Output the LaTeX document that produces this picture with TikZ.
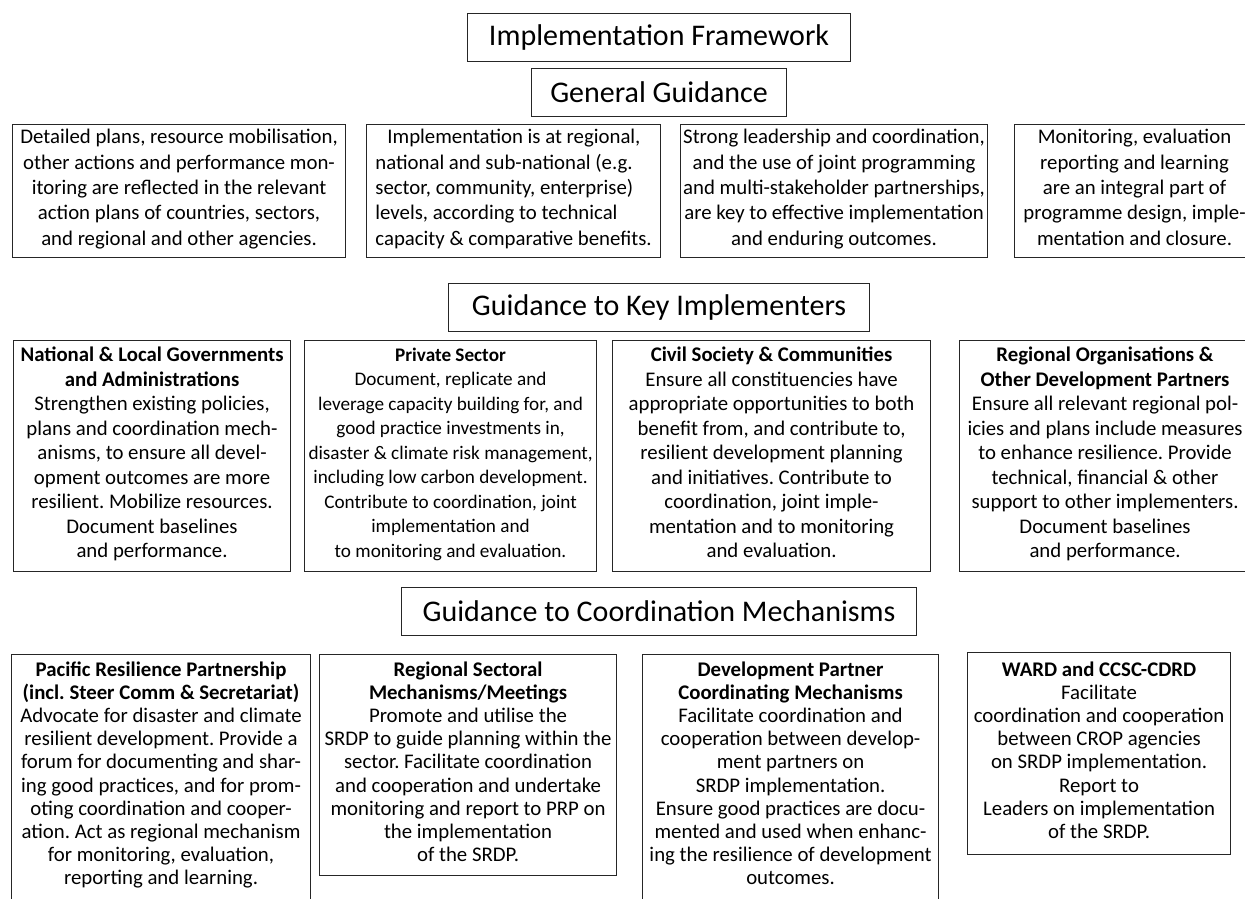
\documentclass[tikz,border=0pt]{standalone}
\usepackage{fontspec}
\setmainfont{Carlito}
\frenchspacing
\begin{document}
\begin{tikzpicture}[x=1pt,y=-1pt,
  box/.style={draw=black!85, line width=1.1pt, align=center, inner xsep=2pt, inner ysep=7pt,
    anchor=north west},
  rowone/.style={box, inner ysep=3pt, minimum height=133pt, font=\fontsize{20.8}{25.4}\selectfont},
  rowtwo/.style={box, inner ysep=3pt, minimum height=231pt, font=\fontsize{20.8}{24.5}\selectfont},
  rowthree/.style={box, font=\fontsize{20.8}{23.2}\selectfont},
  head/.style={draw=black!85, line width=1.1pt, anchor=north west, inner sep=0pt,
    minimum height=48pt, font=\fontsize{30}{36}\selectfont}]
\useasboundingbox (0,0) rectangle (1245,899);

% headers
\node[head, minimum width=383pt] (title) at (467,13) {Implementation Framework};
\node[head, minimum width=255pt] (gg) at (531,68) {General Guidance};
\node[head, minimum width=421pt] (ki) at (448,283) {Guidance to Key Implementers};
\node[head, minimum width=515pt] (cm) at (401,587) {Guidance to Coordination Mechanisms};

% row 1
\node[rowone, minimum width=333pt] (g1) at (12,124) {Detailed plans, resource mobilisation,\\ other actions and performance mon-\\ itoring are reflected in the relevant\\ action plans of countries, sectors,\\ and regional and other agencies.\strut};
\node[rowone, minimum width=294pt, align=left] (g2) at (366,124) {\hspace*{12pt}Implementation is at regional,\\ national and sub-national (e.g.\\ sector, community, enterprise)\\ levels, according to technical\\ capacity \& comparative benefits.\strut};
\node[rowone, minimum width=307pt] (g3) at (680,124) {Strong leadership and coordination,\\ and the use of joint programming\\ and multi-stakeholder partnerships,\\ are key to effective implementation\\ and enduring outcomes.\strut};
\node[rowone, minimum width=240pt] (g4) at (1014,124) {Monitoring, evaluation\\ reporting and learning\\ are an integral part of\\ programme design, imple-\\ mentation and closure.\strut};

% row 2
\node[rowtwo, minimum width=277pt] (k1) at (13,340) {\textbf{National \& Local Governments}\\ \textbf{and Administrations}\\ Strengthen existing policies,\\ plans and coordination mech-\\ anisms, to ensure all devel-\\ opment outcomes are more\\ resilient. Mobilize resources.\\ Document baselines\\ and performance.\strut};
\node[rowtwo, minimum width=292pt, font=\fontsize{19.2}{24.5}\selectfont] (k2) at (304,340) {\textbf{Private Sector}\\ Document, replicate and\\ leverage capacity building for, and\\ good practice investments in,\\ disaster \& climate risk management,\\ including low carbon development.\\ Contribute to coordination, joint\\ implementation and\\ to monitoring and evaluation.\strut};
\node[rowtwo, minimum width=318pt] (k3) at (612,340) {\textbf{Civil Society \& Communities}\\ Ensure all constituencies have\\ appropriate opportunities to both\\ benefit from, and contribute to,\\ resilient development planning\\ and initiatives. Contribute to\\ coordination, joint imple-\\ mentation and to monitoring\\ and evaluation.\strut};
\node[rowtwo, minimum width=291pt] (k4) at (959,340) {\textbf{Regional Organisations \&}\\ \textbf{Other Development Partners}\\ Ensure all relevant regional pol-\\ icies and plans include measures\\ to enhance resilience. Provide\\ technical, financial \& other\\ support to other implementers.\\ Document baselines\\ and performance.\strut};

% row 3
\node[rowthree, minimum width=299pt] (c1) at (11,654) {\textbf{Pacific Resilience Partnership}\\ \textbf{(incl. Steer Comm \& Secretariat)}\\ Advocate for disaster and climate\\ resilient development. Provide a\\ forum for documenting and shar-\\ ing good practices, and for prom-\\ oting coordination and cooper-\\ ation. Act as regional mechanism\\ for monitoring, evaluation,\\ reporting and learning.\rule[-40pt]{0pt}{1pt}};
\node[rowthree, minimum width=297pt] (c2) at (319,654) {\textbf{Regional Sectoral}\\ \textbf{Mechanisms/Meetings}\\ Promote and utilise the\\ SRDP to guide planning within the\\ sector. Facilitate coordination\\ and cooperation and undertake\\ monitoring and report to PRP on\\ the implementation\\ of the SRDP.\strut};
\node[rowthree, minimum width=296pt] (c3) at (642,654) {\textbf{Development Partner}\\ \textbf{Coordinating Mechanisms}\\ Facilitate coordination and\\ cooperation between develop-\\ ment partners on\\ SRDP implementation.\\ Ensure good practices are docu-\\ mented and used when enhanc-\\ ing the resilience of development\\ outcomes.\rule[-40pt]{0pt}{1pt}};
\node[rowthree, minimum width=263pt, inner ysep=9pt] (c4) at (967,652) {\textbf{WARD and CCSC-CDRD}\\ Facilitate\\ coordination and cooperation\\ between CROP agencies\\ on SRDP implementation.\\ Report to\\ Leaders on implementation\\ of the SRDP.\strut};
\end{tikzpicture}
\end{document}
